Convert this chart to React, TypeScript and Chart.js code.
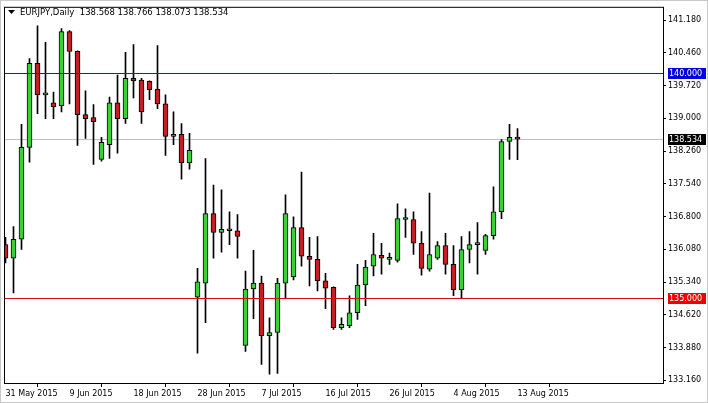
import React, { useEffect, useRef } from "react";
import { Chart, registerables } from "chart.js";

Chart.register(...registerables);

const symbolTitle = "EURJPY,Daily";
const headerValues = ["138.568", "138.766", "138.073", "138.534"];

const dateLabels = [
  "31 May 2015", "9 Jun 2015", "18 Jun 2015", "28 Jun 2015", "7 Jul 2015",
  "16 Jul 2015", "26 Jul 2015", "4 Aug 2015", "13 Aug 2015",
];
const dateTickBars = [0, 8, 16, 24, 32, 40, 48, 56, 64];

const opens = [
  136.18, 135.88, 136.30, 138.35, 140.22, 139.52, 139.34, 139.27, 140.93, 140.49,
  139.08, 139.01, 138.08, 138.41, 139.34, 138.99, 139.89, 139.85, 139.82, 139.65,
  139.32, 138.59, 138.64, 138.00, 135.01, 135.32, 136.87, 136.45, 136.49, 136.49,
  133.93, 135.19, 135.32, 134.15, 134.22, 135.32, 135.46, 136.56, 135.92, 135.85,
  135.37, 135.23, 134.33, 134.37, 134.66, 135.28, 135.70, 135.94, 135.85, 135.83,
  136.74, 136.74, 136.21, 135.63, 135.88, 136.16, 135.74, 135.17, 136.07, 136.18,
  136.05, 136.38, 136.91, 138.48, 138.568,
];
const highs = [
  136.34, 136.58, 138.86, 140.33, 141.06, 140.69, 139.58, 141.00, 140.95, 140.50,
  139.61, 139.30, 138.57, 139.47, 139.96, 140.47, 140.64, 139.89, 139.83, 140.62,
  139.52, 139.14, 138.88, 138.66, 135.65, 138.10, 137.51, 137.40, 136.91, 136.85,
  135.59, 136.05, 135.48, 134.55, 135.43, 137.29, 136.80, 137.80, 136.34, 136.36,
  135.54, 135.24, 134.55, 135.04, 135.74, 135.83, 136.43, 136.21, 135.99, 137.09,
  136.98, 136.91, 136.47, 137.33, 136.25, 136.43, 136.16, 136.36, 136.47, 136.67,
  136.41, 137.47, 138.52, 138.86, 138.766,
];
const lows = [
  135.77, 135.10, 136.07, 138.02, 139.10, 138.99, 138.99, 139.14, 139.32, 138.39,
  138.55, 137.97, 138.04, 138.10, 138.22, 138.88, 139.45, 138.88, 139.41, 139.21,
  138.17, 138.41, 137.64, 137.86, 133.76, 134.44, 135.88, 136.01, 136.18, 135.88,
  133.80, 134.53, 133.51, 133.29, 133.31, 134.99, 135.39, 135.70, 135.26, 135.15,
  134.75, 134.29, 134.29, 134.33, 134.51, 134.82, 135.48, 135.52, 135.74, 135.79,
  136.34, 135.96, 135.50, 135.59, 135.85, 135.52, 135.04, 134.99, 135.77, 135.52,
  135.96, 136.30, 136.76, 138.08, 138.073,
];
const closes = [
  135.88, 136.30, 138.35, 140.22, 139.52, 139.53, 139.25, 140.93, 140.49, 139.08,
  138.99, 138.92, 138.46, 139.34, 138.99, 139.89, 139.83, 139.14, 139.63, 139.32,
  138.59, 138.64, 138.00, 138.28, 135.35, 136.87, 136.45, 136.52, 136.50, 136.36,
  135.19, 135.32, 134.15, 134.22, 135.32, 136.87, 136.56, 135.92, 135.85, 135.37,
  135.21, 134.33, 134.40, 134.66, 135.28, 135.68, 135.96, 135.88, 135.86, 136.76,
  136.75, 136.21, 135.65, 135.96, 136.16, 135.74, 135.17, 136.07, 136.18, 136.19,
  136.38, 136.91, 138.48, 138.57, 138.534,
];

const priceTicks = [
  141.18, 140.46, 139.72, 139.0, 138.26, 137.54, 136.8, 136.08, 135.34, 134.62, 133.88, 133.16,
];
const levelValues = [140.0, 135.0];
const levelLineColors = ["#202094", "#d01010"];
const levelBoxColors = ["#0000e0", "#ee0000"];
const lastPrice = 138.534;
const lastPriceLineColor = "#c0c0c0";

const yMin = 133.094;
const yMax = 141.483;
const xMin = -0.1875;
const xMax = 82.1875;

const bullColor = "#3ccf3c";
const bearColor = "#c81e1e";
const FONT = '"DejaVu Sans", sans-serif';

export default function App() {
  const ref = useRef<HTMLCanvasElement>(null);

  useEffect(() => {
    const canvas = ref.current;
    if (!canvas) return;

    const bodyData = opens.map((o, i) => ({ x: i, y: [o, closes[i]] }));
    const wickData = lows.map((l, i) => ({ x: i, y: [l, highs[i]] }));
    const bodyColors = opens.map((o, i) => (closes[i] >= o ? bullColor : bearColor));

    const hLine = (chart: any, value: number, color: string) => {
      const { ctx, chartArea, scales } = chart;
      const py = Math.round(scales.y.getPixelForValue(value)) + 0.5;
      ctx.save();
      ctx.strokeStyle = color;
      ctx.lineWidth = 1;
      ctx.beginPath();
      ctx.moveTo(chartArea.left, py);
      ctx.lineTo(chartArea.right, py);
      ctx.stroke();
      ctx.restore();
    };

    const framePlugin = {
      id: "frame",
      beforeDraw(chart: any) {
        const { ctx, width, height } = chart;
        ctx.save();
        ctx.fillStyle = "#ffffff";
        ctx.fillRect(0, 0, width, height);
        ctx.restore();
      },
      beforeDatasetsDraw(chart: any) {
        hLine(chart, lastPrice, lastPriceLineColor);
      },
      afterDatasetsDraw(chart: any) {
        levelValues.forEach((v, k) => hLine(chart, v, levelLineColors[k]));
      },
      afterDraw(chart: any) {
        const { ctx, chartArea, scales, width, height } = chart;
        const { left, top, right, bottom } = chartArea;
        ctx.save();
        ctx.strokeStyle = "#c8c8c8";
        ctx.lineWidth = 1;
        ctx.strokeRect(0.5, 0.5, width - 1, height - 1);

        ctx.strokeStyle = "#000000";
        ctx.strokeRect(left + 0.5, top + 0.5, right - left, bottom - top);

        // header
        ctx.fillStyle = "#000000";
        ctx.beginPath();
        ctx.moveTo(8, 10);
        ctx.lineTo(15, 10);
        ctx.lineTo(11.5, 14);
        ctx.closePath();
        ctx.fill();
        ctx.font = `8.5px ${FONT}`;
        ctx.textBaseline = "middle";
        ctx.textAlign = "left";
        ctx.fillText(symbolTitle + "  " + headerValues.join(" "), 20, 13);

        // price labels on right axis
        const yScale = scales.y;
        const boxes = [
          { v: levelValues[0], c: levelBoxColors[0] },
          { v: lastPrice, c: "#000000" },
          { v: levelValues[1], c: levelBoxColors[1] },
        ];
        ctx.font = `8px ${FONT}`;
        for (const b of boxes) {
          const py = Math.round(yScale.getPixelForValue(b.v));
          ctx.fillStyle = b.c;
          ctx.fillRect(right + 5, py - 5, 38, 11);
          ctx.fillStyle = "#ffffff";
          ctx.fillText(b.v.toFixed(3), right + 6, py + 0.5);
        }
        ctx.restore();
      },
    };

    const chart = new Chart(canvas, {
      type: "bar",
      data: {
        datasets: [
          {
            type: "bar",
            data: bodyData as any,
            backgroundColor: bodyColors,
            borderColor: "#000000",
            borderWidth: 1,
            borderSkipped: false,
            barThickness: 5,
            minBarLength: 2,
            grouped: false,
            order: 1,
          } as any,
          {
            type: "bar",
            data: wickData as any,
            backgroundColor: "#000000",
            borderWidth: 0,
            barThickness: 1,
            grouped: false,
            order: 2,
          } as any,
        ],
      },
      options: {
        animation: false,
        responsive: false,
        events: [],
        layout: { padding: { left: 4, top: 3, right: 0, bottom: 0 } },
        plugins: {
          legend: { display: false },
          tooltip: { enabled: false },
          title: { display: false },
        },
        scales: {
          x: {
            type: "linear",
            min: xMin,
            max: xMax,
            offset: false,
            afterBuildTicks(scale: any) {
              scale.ticks = dateTickBars.map((v) => ({ value: v }));
            },
            afterFit(scale: any) {
              scale.height = 20;
            },
            grid: {
              display: true,
              drawOnChartArea: false,
              drawTicks: true,
              tickLength: 4,
              color: "#000000",
            },
            border: { display: false },
            ticks: {
              autoSkip: false,
              maxRotation: 0,
              minRotation: 0,
              align: "start",
              padding: 2,
              color: "#000000",
              font: { family: FONT, size: 8 },
              callback: (v: any) => {
                const k = dateTickBars.indexOf(Number(v));
                return k >= 0 ? dateLabels[k] : "";
              },
            },
          },
          y: {
            type: "linear",
            position: "right",
            min: yMin,
            max: yMax,
            afterBuildTicks(scale: any) {
              scale.ticks = priceTicks.map((v) => ({ value: v }));
            },
            afterFit(scale: any) {
              scale.width = 45;
            },
            grid: {
              display: true,
              drawOnChartArea: false,
              drawTicks: true,
              tickLength: 3,
              color: "#000000",
            },
            border: { display: false },
            ticks: {
              padding: 2,
              color: "#000000",
              font: { family: FONT, size: 8 },
              callback: (v: any) => Number(v).toFixed(3),
            },
          },
        },
      } as any,
      plugins: [framePlugin],
    });

    return () => chart.destroy();
  }, []);

  return (
    <div style={{ position: "absolute", left: 0, top: 0, width: 708, height: 403 }}>
      <canvas ref={ref} width={708} height={403} style={{ display: "block" }} />
    </div>
  );
}
